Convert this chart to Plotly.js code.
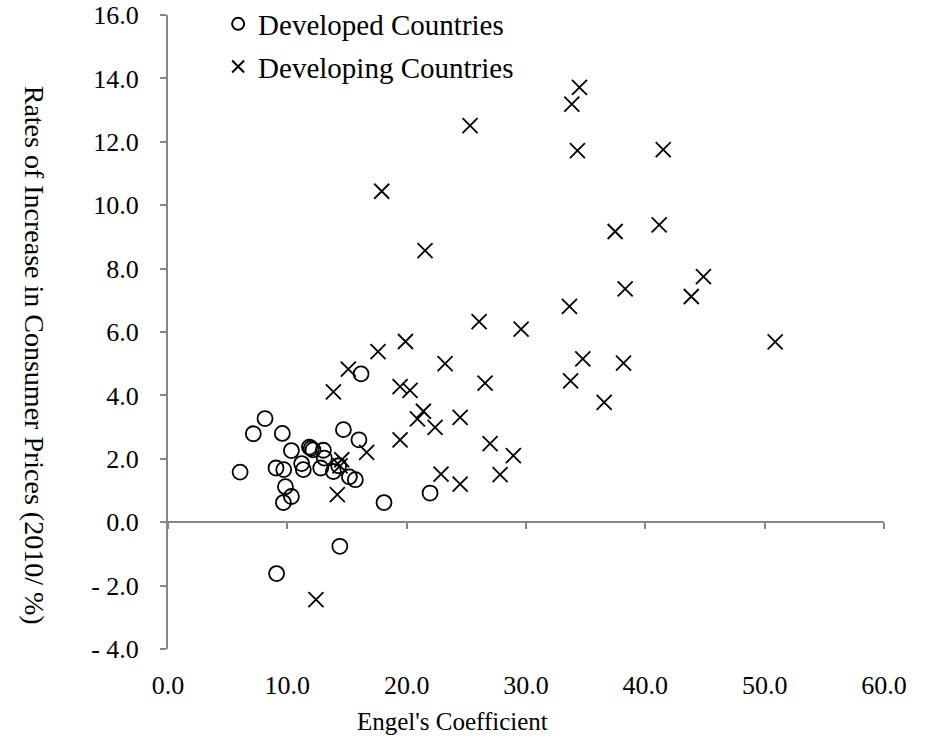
<!DOCTYPE html>
<html>
<head>
<meta charset="utf-8">
<script src="https://cdn.plot.ly/plotly-3.0.1.min.js"></script>
<style>
  html, body { margin: 0; padding: 0; background: #ffffff; }
  #chart { width: 926px; height: 739px; }
</style>
</head>
<body>
<div id="chart"></div>
<script>
// Developed countries: Engel's coefficient (x) vs consumer price increase (y)
const developedX = [6.04, 7.15, 8.13, 9.58, 9.05, 9.7, 9.84, 10.34, 9.67, 10.34, 11.2, 11.34, 11.85, 12.0, 12.15, 13.02, 13.1, 12.8, 13.86, 14.3, 14.7, 15.2, 15.7, 16.0, 16.18, 18.1, 21.96, 14.4, 9.1];
const developedY = [1.58, 2.79, 3.27, 2.80, 1.71, 1.66, 1.12, 0.81, 0.62, 2.26, 1.85, 1.66, 2.37, 2.33, 2.28, 2.27, 2.02, 1.71, 1.60, 1.78, 2.92, 1.43, 1.34, 2.60, 4.68, 0.62, 0.92, -0.76, -1.62];

// Developing countries
const developingX = [34.48, 33.84, 25.31, 34.31, 17.91, 37.47, 21.54, 38.31, 33.64, 26.07, 29.59, 19.9, 44.87, 43.85, 17.6, 23.22, 34.76, 38.17, 33.74, 26.57, 19.45, 20.28, 36.55, 21.4, 20.9, 22.38, 24.48, 19.45, 26.99, 28.94, 22.88, 24.48, 27.83, 50.88, 41.5, 41.16, 15.11, 13.86, 16.65, 14.56, 14.42, 14.19, 12.4];
const developingY = [13.72, 13.19, 12.51, 11.72, 10.44, 9.17, 8.57, 7.36, 6.81, 6.33, 6.09, 5.7, 7.75, 7.12, 5.38, 5.0, 5.15, 5.02, 4.46, 4.39, 4.28, 4.16, 3.78, 3.5, 3.26, 2.99, 3.31, 2.6, 2.48, 2.1, 1.52, 1.2, 1.5, 5.69, 11.75, 9.38, 4.83, 4.11, 2.2, 1.97, 1.78, 0.87, -2.44];

const seriesNames = ["Developed Countries", "Developing Countries"];

const xTickVals = [0, 10, 20, 30, 40, 50, 60];
const xTickText = ["0.0", "10.0", "20.0", "30.0", "40.0", "50.0", "60.0"];
const yTickVals = [-4, -2, 0, 2, 4, 6, 8, 10, 12, 14, 16];
const yTickText = ["- 4.0", "- 2.0", "0.0", "2.0", "4.0", "6.0", "8.0", "10.0", "12.0", "14.0", "16.0"];

const xTitle = "Engel's Coefficient";
const yTitle = "Rates of Increase in Consumer Prices (2010/ %)";

const FONT = "Liberation Serif";
const AXIS_GRAY = "#868686";

const traces = [
  {
    type: "scatter", mode: "markers", name: seriesNames[0],
    x: developedX, y: developedY, legendgroup: "a",
    marker: { symbol: "circle-open", size: 15, color: "#000000", line: { color: "#000000", width: 1.8 } },
    cliponaxis: false
  },
  {
    type: "scatter", mode: "markers", name: seriesNames[1],
    x: developingX, y: developingY, legendgroup: "b",
    marker: { symbol: "x-thin-open", size: 15, color: "#000000", line: { color: "#000000", width: 1.8 } },
    cliponaxis: false
  },
  {
    type: "scatter", mode: "markers", x: [], y: [], xaxis: "x2", yaxis: "y",
    showlegend: false, hoverinfo: "skip"
  }
];

const layout = {
  width: 926, height: 739,
  margin: { l: 168, r: 42, t: 15, b: 90, autoexpand: false },
  paper_bgcolor: "#ffffff", plot_bgcolor: "#ffffff",
  font: { family: FONT, color: "#000000", size: 26 },
  showlegend: true,
  legend: {
    x: 0.07, y: 1.026, xanchor: "left", yanchor: "top",
    font: { family: FONT, size: 29, color: "#000000" },
    bgcolor: "rgba(0,0,0,0)", borderwidth: 0,
    tracegroupgap: 2, itemsizing: "constant"
  },
  xaxis: {
    range: [0, 60], domain: [0, 1], anchor: "y", automargin: false,
    showline: false, zeroline: false, showgrid: false,
    ticks: "", tickmode: "array", tickvals: xTickVals, ticktext: xTickText,
    ticklabelstandoff: 18,
    tickfont: { family: FONT, size: 26, color: "#000000" }
  },
  xaxis2: {
    range: [0, 60], overlaying: "x", anchor: "free", position: 0.2, automargin: false,
    showline: true, linecolor: AXIS_GRAY, linewidth: 2,
    zeroline: false, showgrid: false,
    ticks: "outside", ticklen: 6, tickwidth: 2, tickcolor: AXIS_GRAY,
    tickmode: "array", tickvals: xTickVals, showticklabels: false
  },
  yaxis: {
    range: [-4, 16], domain: [0, 1], anchor: "x", automargin: false,
    showline: true, linecolor: AXIS_GRAY, linewidth: 2,
    zeroline: false, showgrid: false,
    ticks: "outside", ticklen: 6, tickwidth: 2, tickcolor: AXIS_GRAY,
    tickmode: "array", tickvals: yTickVals, ticktext: yTickText,
    ticklabelstandoff: 16,
    tickfont: { family: FONT, size: 26, color: "#000000" }
  },
  annotations: [
    {
      text: yTitle, xref: "paper", yref: "paper",
      x: -0.187, y: 0.464, xanchor: "center", yanchor: "middle",
      textangle: 90, showarrow: false,
      font: { family: FONT, size: 28, color: "#000000" }
    },
    {
      text: xTitle, xref: "paper", yref: "paper",
      x: 0.397, y: -0.115, xanchor: "center", yanchor: "middle",
      showarrow: false,
      font: { family: FONT, size: 25, color: "#000000" }
    }
  ]
};

Plotly.newPlot("chart", traces, layout, { displayModeBar: false, staticPlot: true });
</script>
</body>
</html>
